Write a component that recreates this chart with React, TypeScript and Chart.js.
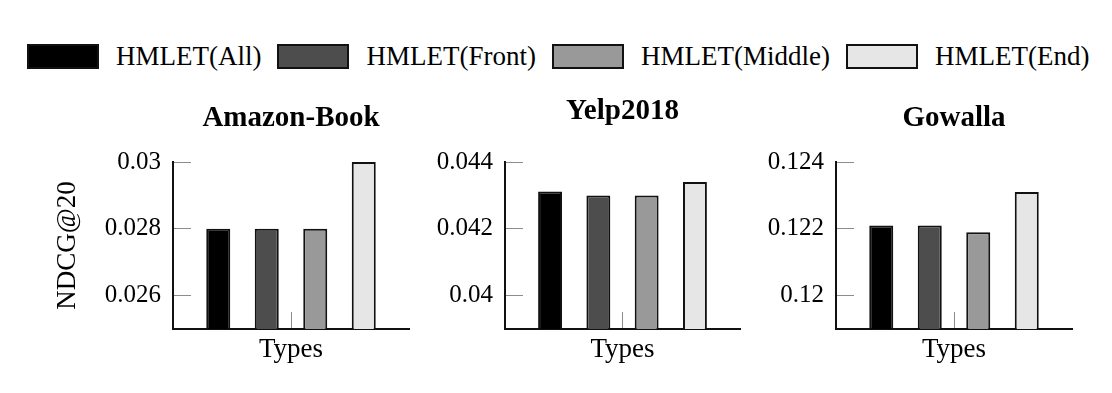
import React, { useEffect, useRef } from "react";
import { Chart, registerables } from "chart.js";

Chart.register(...registerables);

// ---- data ----
const SERIES = ["HMLET(All)", "HMLET(Front)", "HMLET(Middle)", "HMLET(End)"];
const COLORS = ["#000000", "#4d4d4d", "#999999", "#e6e6e6"];
const CATEGORY = ["Types"];
const Y_TITLE = "NDCG@20";

const AMAZON_VALUES = [0.028, 0.028, 0.028, 0.03];
const AMAZON_TICKS = [0.026, 0.028, 0.03];
const AMAZON_RANGE = [0.025, 0.03];

const YELP_VALUES = [0.04312, 0.043, 0.043, 0.0434];
const YELP_TICKS = [0.04, 0.042, 0.044];
const YELP_RANGE = [0.039, 0.044];

const GOWALLA_VALUES = [0.1221, 0.1221, 0.1219, 0.1231];
const GOWALLA_TICKS = [0.12, 0.122, 0.124];
const GOWALLA_RANGE = [0.119, 0.124];

const FONT = "'Liberation Serif', 'Times New Roman', serif";

type PanelProps = {
  title: string;
  values: number[];
  ticks: number[];
  range: number[];
  yTitle?: string;
  left: number;
  width: number;
  axisWidth: number;
  titlePadTop: number;
  titlePadBottom: number;
};

const CANVAS_TOP = 90;
const CANVAS_HEIGHT = 303;
const X_AXIS_HEIGHT = 64;

function Panel(props: PanelProps) {
  const ref = useRef<HTMLCanvasElement | null>(null);
  useEffect(() => {
    if (!ref.current) return;
    const chart = new Chart(ref.current, {
      type: "bar",
      data: {
        labels: CATEGORY,
        datasets: SERIES.map((name, i) => ({
          label: name,
          data: [props.values[i]],
          backgroundColor: COLORS[i],
          borderColor: "#111111",
          borderWidth: 2,
          borderSkipped: "start",
          categoryPercentage: 0.822,
          barPercentage: 0.495,
        })),
      },
      options: {
        responsive: false,
        maintainAspectRatio: false,
        animation: false,
        layout: { padding: { left: 0, right: 3, top: 0, bottom: 0 } },
        plugins: {
          legend: { display: false },
          tooltip: { enabled: false },
          title: {
            display: true,
            text: props.title,
            fullSize: false,
            color: "#000",
            font: { family: FONT, size: 29, weight: "bold" },
            padding: { top: props.titlePadTop, bottom: props.titlePadBottom },
          },
        },
        scales: {
          x: {
            type: "category",
            offset: true,
            grid: {
              display: true,
              drawOnChartArea: false,
              drawTicks: true,
              tickLength: -17,
              offset: false,
              color: "#8c8c8c",
              lineWidth: 1,
            },
            border: { display: true, color: "#111111", width: 2 },
            ticks: { display: false },
            title: {
              display: true,
              text: "Types",
              color: "#000",
              font: { family: FONT, size: 27 },
              padding: { top: 0, bottom: 27 },
            },
            afterFit: (s: any) => {
              s.height = X_AXIS_HEIGHT;
            },
          },
          y: {
            min: props.range[0],
            max: props.range[1],
            grid: {
              display: true,
              drawOnChartArea: false,
              drawTicks: true,
              tickLength: -18,
              color: "#8c8c8c",
              lineWidth: 1,
            },
            border: { display: true, color: "#111111", width: 2 },
            ticks: {
              padding: 30,
              color: "#000",
              font: { family: FONT, size: 25 },
              callback: (v: any) => String(Number(Number(v).toFixed(3))),
            },
            afterBuildTicks: (s: any) => {
              s.ticks = props.ticks.map((v) => ({ value: v }));
            },
            afterFit: (s: any) => {
              s.width = props.axisWidth;
            },
            title: props.yTitle
              ? {
                  display: true,
                  text: props.yTitle,
                  color: "#000",
                  font: { family: FONT, size: 27 },
                  padding: { top: 19, bottom: 0 },
                }
              : { display: false },
          },
        },
      } as any,
    });
    return () => chart.destroy();
  }, []);
  return (
    <canvas
      ref={ref}
      width={props.width}
      height={CANVAS_HEIGHT}
      style={{
        position: "absolute",
        left: props.left,
        top: CANVAS_TOP,
        width: props.width,
        height: CANVAS_HEIGHT,
      }}
    />
  );
}

function Legend() {
  return (
    <div
      style={{
        position: "absolute",
        left: 27,
        top: 44,
        height: 25,
        display: "flex",
        alignItems: "center",
        fontFamily: FONT,
        fontSize: 27,
        lineHeight: 1,
        color: "#000",
        whiteSpace: "nowrap",
      }}
    >
      {SERIES.map((name, i) => (
        <React.Fragment key={name}>
          <div
            style={{
              width: 72,
              height: 25,
              boxSizing: "border-box",
              border: "2px solid #111",
              background: COLORS[i],
              flex: "none",
            }}
          />
          <span style={{ marginLeft: 17, marginRight: i < SERIES.length - 1 ? 16 : 0 }}>{name}</span>
        </React.Fragment>
      ))}
    </div>
  );
}

export default function App() {
  return (
    <div
      style={{
        position: "absolute",
        left: 0,
        top: 0,
        width: 1112,
        height: 393,
        background: "#fff",
        overflow: "hidden",
      }}
    >
      <Legend />
      <Panel
        title="Amazon-Book"
        values={AMAZON_VALUES}
        ticks={AMAZON_TICKS}
        range={AMAZON_RANGE}
        yTitle={Y_TITLE}
        left={33}
        width={379}
        axisWidth={140}
        titlePadTop={11}
        titlePadBottom={26.2}
      />
      <Panel
        title="Yelp2018"
        values={YELP_VALUES}
        ticks={YELP_TICKS}
        range={YELP_RANGE}
        left={405}
        width={338}
        axisWidth={100}
        titlePadTop={4}
        titlePadBottom={33.2}
      />
      <Panel
        title="Gowalla"
        values={GOWALLA_VALUES}
        ticks={GOWALLA_TICKS}
        range={GOWALLA_RANGE}
        left={736}
        width={339}
        axisWidth={100}
        titlePadTop={11}
        titlePadBottom={26.2}
      />
    </div>
  );
}
